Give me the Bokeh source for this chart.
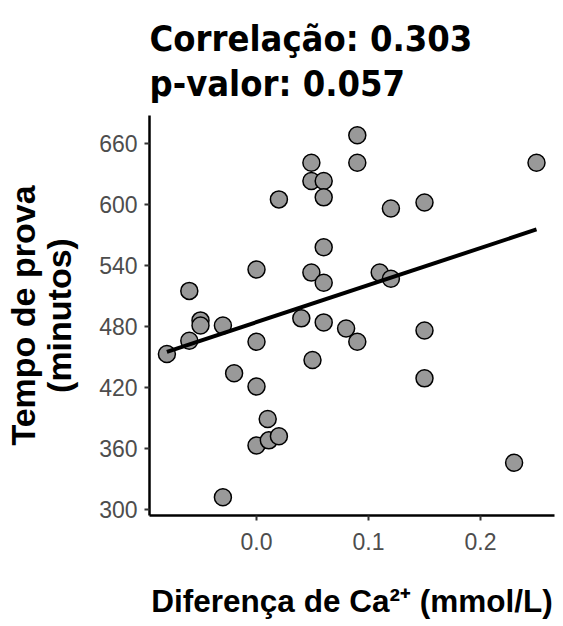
import numpy as np
from bokeh.plotting import figure
from bokeh.models import FixedTicker, Range1d
from bokeh.embed import file_html
from bokeh.resources import INLINE

# ---- data ----
diferenca_ca = [-0.080, -0.060, -0.060, -0.050, -0.050, -0.030, -0.030, -0.020,
                0.000, 0.000, 0.000, 0.000, 0.010, 0.011, 0.020, 0.020,
                0.040, 0.049, 0.049, 0.049, 0.050, 0.060, 0.060, 0.060,
                0.060, 0.060, 0.080, 0.090, 0.090, 0.090, 0.110, 0.120,
                0.120, 0.150, 0.150, 0.150, 0.230, 0.250]
tempo_prova = [453, 515, 466, 486, 481, 481, 312, 434,
               536, 465, 421, 363, 389, 368, 372, 605,
               488, 641, 623, 533, 447, 623, 607, 558,
               523, 484, 478, 668, 641, 465, 533, 527,
               596, 602, 476, 429, 346, 641]

x_ticks = [0.0, 0.1, 0.2]
x_tick_labels = ["0.0", "0.1", "0.2"]
y_ticks = [300, 360, 420, 480, 540, 600, 660]
y_tick_labels = ["300", "360", "420", "480", "540", "600", "660"]
titulo = ["Correlação: 0.303", "p-valor: 0.057"]
rotulo_x = "Diferença de Ca²⁺ (mmol/L)"
rotulo_y = "Tempo de prova\n(minutos)"

# linear fit from the data
slope, intercept = np.polyfit(diferenca_ca, tempo_prova, 1)
fit_x = [min(diferenca_ca), max(diferenca_ca)]
fit_y = [slope * v + intercept for v in fit_x]

p = figure(width=558, height=624, output_backend="svg", toolbar_location=None,
           x_range=Range1d(-0.09554, 0.26607), y_range=Range1d(294.1, 687.5),
           min_border_left=149, min_border_right=4,
           min_border_top=115, min_border_bottom=109)

p.title.text = "\n".join(titulo)
p.title.text_font = "'DejaVu Sans Condensed', Roboto, sans-serif"
p.title.text_font_style = "bold"
p.title.text_font_size = "36px"
p.title.text_color = "black"
p.title.align = "left"
p.title.text_line_height = 1.1
p.title.standoff = 22

p.grid.visible = False
p.outline_line_color = None

for ax in (p.xaxis[0], p.yaxis[0]):
    ax.axis_line_color = "black"
    ax.axis_line_width = 2.5
    ax.major_tick_line_color = "#333333"
    ax.major_tick_line_width = 2
    ax.major_tick_out = 5
    ax.major_tick_in = 0
    ax.minor_tick_line_color = None
    ax.major_label_text_font = "Liberation Sans"
    ax.major_label_text_font_size = "23px"
    ax.major_label_text_color = "#4D4D4D"
    ax.axis_label_text_font = "Liberation Sans"
    ax.axis_label_text_font_style = "bold"
    ax.axis_label_text_color = "black"

p.xaxis[0].ticker = FixedTicker(ticks=x_ticks)
p.xaxis[0].major_label_overrides = dict(zip(x_ticks, x_tick_labels))
p.xaxis[0].major_label_standoff = 12
p.xaxis[0].axis_label = rotulo_x
p.xaxis[0].axis_label_text_font_size = "31.5px"
p.xaxis[0].axis_label_standoff = 30

p.yaxis[0].ticker = FixedTicker(ticks=y_ticks)
p.yaxis[0].major_label_overrides = dict(zip(y_ticks, y_tick_labels))
p.yaxis[0].major_label_standoff = 7
p.yaxis[0].axis_label = rotulo_y
p.yaxis[0].axis_label_text_font_size = "34px"
p.yaxis[0].axis_label_standoff = 18
p.yaxis[0].axis_label_text_line_height = 0.95

p.scatter(diferenca_ca, tempo_prova, size=17, fill_color="#999999",
          line_color="black", line_width=1.5)
p.line(fit_x, fit_y, line_width=4, line_color="black")

open("out.html", "w").write(file_html(p, INLINE))
